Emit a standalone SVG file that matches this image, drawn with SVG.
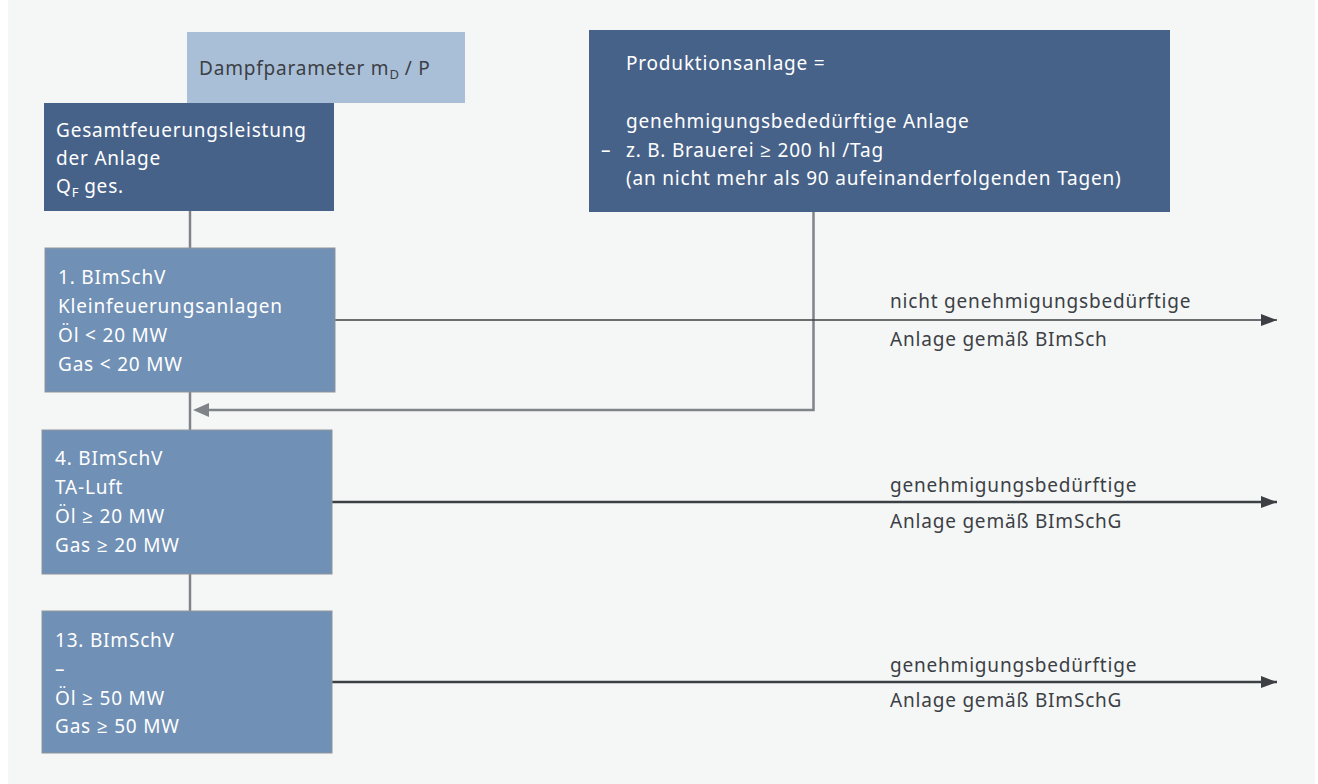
<svg xmlns="http://www.w3.org/2000/svg" width="1318" height="784" viewBox="0 0 1318 784">
<defs>
<style>
.t{font-family:"Noto Sans","Open Sans",sans-serif;font-size:19px;letter-spacing:0.8px}
.w{fill:#ffffff}
.d{fill:#3c4045}
.dark{fill:#476289}
.mid{fill:#7090b5;stroke:#8f959b;stroke-width:1}
.light{fill:#a9bfd8}
.con{fill:none;stroke:#808388;stroke-width:2.5}
.out{fill:none;stroke:#3c4045}
.sub{font-size:13px;letter-spacing:0}
</style>
<marker id="ah" viewBox="0 0 16 12" refX="16" refY="6" markerWidth="16" markerHeight="12" markerUnits="userSpaceOnUse" orient="auto">
<path d="M0,0 L16,6 L0,12 Z" fill="#3c4045"/>
</marker>
</defs>
<rect x="8" y="0" width="1307" height="784" fill="#f5f7f7"/>
<g id="connectors">
<line class="con" x1="190" y1="211" x2="190" y2="248"/>
<line class="con" x1="190" y1="392" x2="190" y2="430"/>
<line class="con" x1="190" y1="574" x2="190" y2="611"/>
<path class="con" d="M813.5,208 V410 H209"/>
<path d="M209,403 L193,410 L209,417 Z" fill="#808388"/>
<line class="out" stroke-width="1.5" x1="335" y1="320" x2="1277" y2="320" marker-end="url(#ah)"/>
<line class="out" stroke-width="2.5" x1="332" y1="502" x2="1277" y2="502" marker-end="url(#ah)"/>
<line class="out" stroke-width="2.5" x1="332" y1="682" x2="1277" y2="682" marker-end="url(#ah)"/>
<text class="t d" x="890" y="308">nicht genehmigungsbedürftige</text>
<text class="t d" x="890" y="346">Anlage gemäß BImSch</text>
<text class="t d" x="890" y="492">genehmigungsbedürftige</text>
<text class="t d" x="890" y="528">Anlage gemäß BImSchG</text>
<text class="t d" x="890" y="672">genehmigungsbedürftige</text>
<text class="t d" x="890" y="707">Anlage gemäß BImSchG</text>
</g>
<g id="dampf">
<rect class="light" x="187" y="32" width="278" height="71"/>
<text class="t d" x="199" y="75">Dampfparameter m<tspan class="sub" dy="4">D</tspan><tspan dy="-4"> / P</tspan></text>
</g>
<g id="gesamt">
<rect class="dark" x="44" y="103" width="290" height="108"/>
<text class="t w" x="56" y="137">Gesamtfeuerungsleistung</text>
<text class="t w" x="56" y="165">der Anlage</text>
<text class="t w" x="56" y="193">Q<tspan class="sub" dy="4">F</tspan><tspan dy="-4"> ges.</tspan></text>
</g>
<g id="produktion">
<rect class="dark" x="589" y="30" width="581" height="182"/>
<text class="t w" x="626" y="70">Produktionsanlage =</text>
<text class="t w" x="626" y="128">genehmigungsbededürftige Anlage</text>
<text class="t w" x="601" y="157">–</text>
<text class="t w" x="626" y="157">z. B. Brauerei ≥ 200 hl /Tag</text>
<text class="t w" x="626" y="185">(an nicht mehr als 90 aufeinanderfolgenden Tagen)</text>
</g>
<g id="b1">
<rect class="mid" x="45" y="248" width="290" height="144"/>
<text class="t w" x="58" y="284">1. BImSchV</text>
<text class="t w" x="58" y="313">Kleinfeuerungsanlagen</text>
<text class="t w" x="58" y="342">Öl &lt; 20 MW</text>
<text class="t w" x="58" y="371">Gas &lt; 20 MW</text>
</g>
<g id="b4">
<rect class="mid" x="42" y="430" width="290" height="144"/>
<text class="t w" x="55" y="465">4. BImSchV</text>
<text class="t w" x="55" y="494">TA-Luft</text>
<text class="t w" x="55" y="523">Öl ≥ 20 MW</text>
<text class="t w" x="55" y="552">Gas ≥ 20 MW</text>
</g>
<g id="b13">
<rect class="mid" x="42" y="611" width="290" height="142"/>
<text class="t w" x="55" y="647">13. BImSchV</text>
<text class="t w" x="55" y="676">–</text>
<text class="t w" x="55" y="705">Öl ≥ 50 MW</text>
<text class="t w" x="55" y="733">Gas ≥ 50 MW</text>
</g>
</svg>
